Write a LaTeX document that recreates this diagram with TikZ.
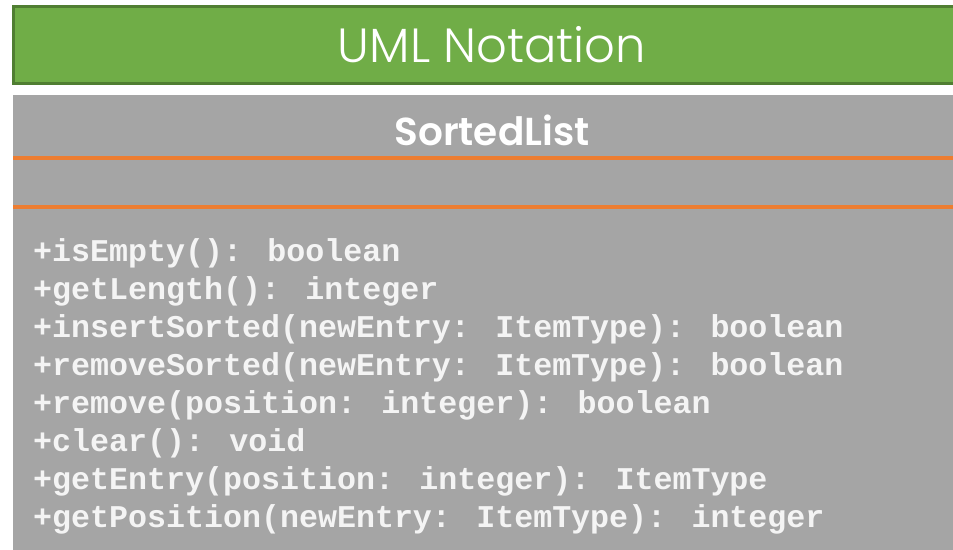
\documentclass[tikz,border=0pt]{standalone}
\usepackage{fontspec}
\newfontfamily\headfont{Poppins Light}
\newfontfamily\namefont{Poppins SemiBold}
\newfontfamily\codefont{Liberation Mono}
\definecolor{bannerfill}{HTML}{70AD47}
\definecolor{bannerline}{HTML}{507E32}
\definecolor{classfill}{HTML}{A5A5A5}
\definecolor{divider}{HTML}{ED7D31}
\definecolor{codetext}{HTML}{F4F4F4}
\begin{document}
\begin{tikzpicture}[x=1pt,y=-1pt,
  banner/.style={fill=bannerfill, draw=bannerline, line width=3pt},
  classbox/.style={fill=classfill},
  divline/.style={draw=divider, line width=4pt},
  heading/.style={anchor=base, inner sep=0pt, text=white,
    font=\headfont\fontsize{48}{52}\selectfont},
  classname/.style={anchor=base, inner sep=0pt, text=white,
    font=\namefont\fontsize{39}{44}\selectfont},
  member/.style={anchor=base west, inner sep=0pt, text=codetext,
    font=\codefont\bfseries\fontsize{31.65}{38}\selectfont}]
\useasboundingbox (0,0) rectangle (953,549);
\begin{scope}
  \clip (0,0) rectangle (953,549);
  % title banner
  \path[banner] (13.5,6) rectangle (990,83.5);
  % class box with its two compartment dividers
  \path[classbox] (13,95) rectangle (990,560);
  \coordinate (d1a) at (13,157.5);  \coordinate (d1b) at (990,157.5);
  \coordinate (d2a) at (13,207);    \coordinate (d2b) at (990,207);
  \draw[divline] (d1a) -- (d1b);
  \draw[divline] (d2a) -- (d2b);
\end{scope}
\node[heading] (title) at (492,62) {UML Notation};
\node[classname] (cls) at (492,145) {SortedList};
% operations compartment
\node[member] (m1) at (33,261.7) {+isEmpty(): boolean};
\node[member] (m2) at (33,299.6) {+getLength(): integer};
\node[member] (m3) at (33,337.5) {+insertSorted(newEntry: ItemType): boolean};
\node[member] (m4) at (33,375.4) {+removeSorted(newEntry: ItemType): boolean};
\node[member] (m5) at (33,413.3) {+remove(position: integer): boolean};
\node[member] (m6) at (33,451.2) {+clear(): void};
\node[member] (m7) at (33,489.1) {+getEntry(position: integer): ItemType};
\node[member] (m8) at (33,527.0) {+getPosition(newEntry: ItemType): integer};
\end{tikzpicture}
\end{document}
